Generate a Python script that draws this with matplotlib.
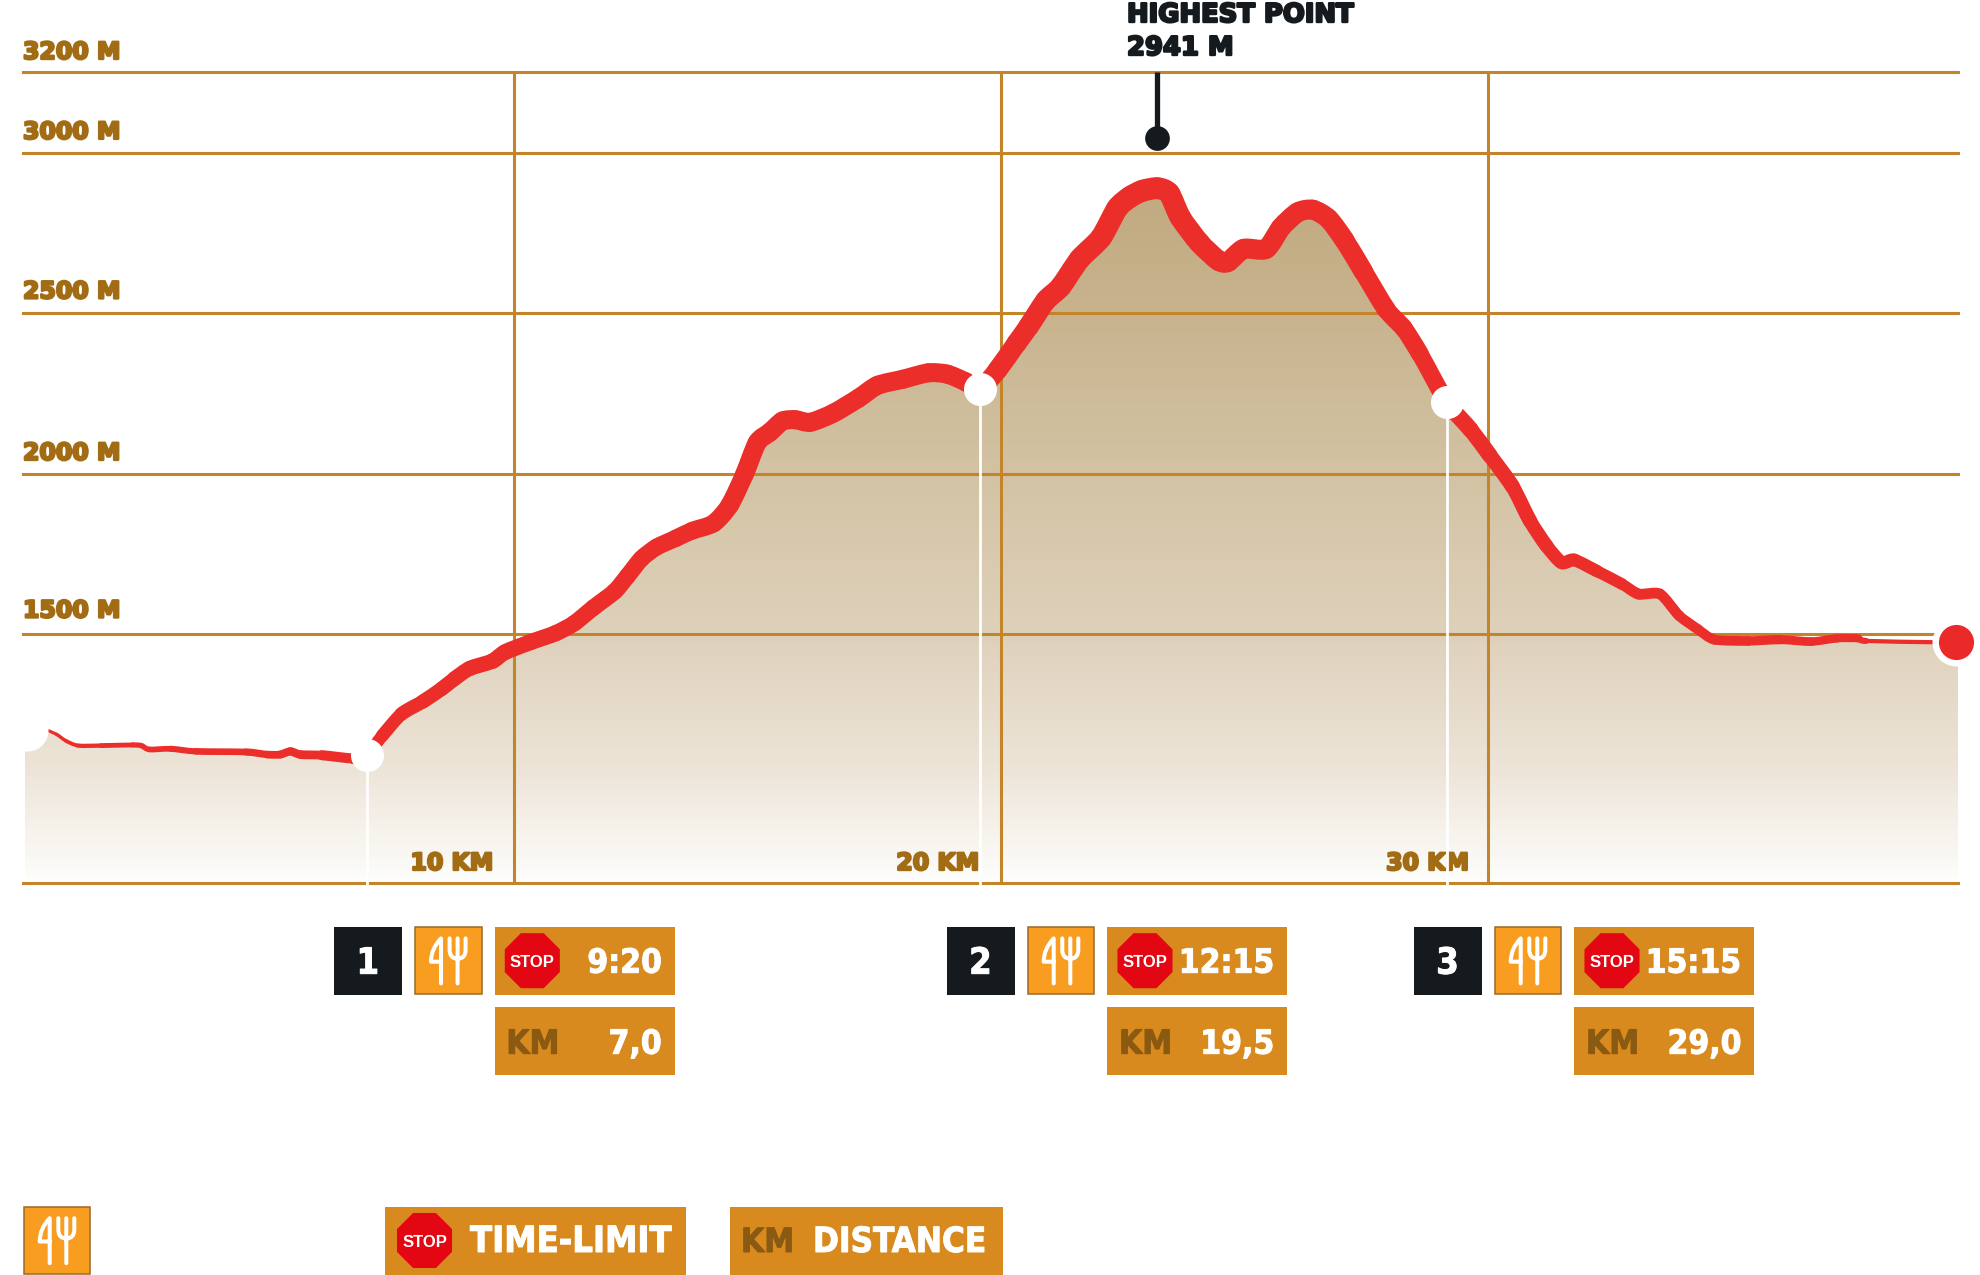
import numpy as np
import matplotlib
matplotlib.use("Agg")
import matplotlib.pyplot as plt
from matplotlib.collections import PathCollection
from matplotlib.colors import LinearSegmentedColormap
from matplotlib.patches import Rectangle, RegularPolygon, PathPatch
from matplotlib.path import Path
from matplotlib.transforms import Affine2D
import matplotlib.patheffects as pe

# ---------- data ----------
km = [0.42, 0.60, 0.79, 1.04, 1.51, 2.16, 2.34, 2.50, 2.94, 3.46, 4.49, 4.93, 5.19, 5.40, 5.61, 6.05, 6.70, 6.98,
      7.29, 7.68, 8.12, 8.51, 8.77, 9.08, 9.55, 9.81, 10.33, 10.85, 11.23, 11.62, 12.06, 12.32, 12.61, 12.92,
      13.31, 13.65, 14.09, 14.42, 14.73, 14.99, 15.25, 15.51, 15.77, 16.08, 16.55, 17.07, 17.46, 17.98, 18.50,
      18.89, 19.27, 19.56, 19.92, 20.31, 20.57, 20.91, 21.22, 21.61, 22.05, 22.38, 22.64, 22.90, 23.21, 23.45,
      23.68, 24.07, 24.46, 24.66, 24.98, 25.44, 25.75, 26.09, 26.40, 26.72, 27.05, 27.44, 27.91, 28.27, 28.60,
      29.15, 29.64, 30.03, 30.50, 30.86, 31.20, 31.51, 31.77, 32.24, 32.75, 33.09, 33.53, 33.92, 34.31, 34.65,
      35.35, 36.00, 36.64, 37.16, 37.60, 37.76, 39.11, 39.60]
elevation = [1201, 1189, 1169, 1154, 1154, 1156, 1154, 1142, 1144, 1136, 1134, 1126, 1126, 1136, 1126, 1124, 1114, 1126,
             1185, 1252, 1291, 1331, 1362, 1394, 1417, 1445, 1476, 1504, 1535, 1583, 1634, 1681, 1736, 1772,
             1799, 1823, 1846, 1902, 2000, 2098, 2130, 2165, 2169, 2161, 2189, 2236, 2276, 2295, 2315,
             2311, 2287, 2264, 2323, 2406, 2461, 2539, 2583, 2669, 2736, 2827, 2862, 2882, 2890, 2874,
             2799, 2720, 2665, 2661, 2701, 2701, 2768, 2815, 2823, 2795, 2728, 2630, 2512, 2453, 2374,
             2224, 2138, 2059, 1961, 1854, 1776, 1724, 1732, 1697, 1657, 1626, 1626, 1559, 1516, 1484,
             1480, 1484, 1478, 1488, 1488, 1480, 1476, 1476]
elev_ticks = [1500, 2000, 2500, 3000, 3200]
elev_tick_labels = ["1500 M", "2000 M", "2500 M", "3000 M", "3200 M"]
km_ticks = [10, 20, 30]
km_tick_labels = ["10 KM", "20 KM", "30 KM"]
aid_km = [6.98, 19.56, 29.15]
aid_elev = [1126, 2264, 2224]
aid_numbers = ["1", "2", "3"]
aid_times = ["9:20", "12:15", "15:15"]
aid_distances = ["7,0", "19,5", "29,0"]
start_point = (-0.01, 1203)
finish_point = (39.60, 1476)
high_point = (23.2, 3036)
high_labels = ["HIGHEST POINT", "2941 M"]

# ---------- style ----------
W, H = 1980, 1275
GRID = "#c4852a"; LABEL = "#a26c14"; RED = "#ec2e2b"; DARK = "#141a1d"
PANEL = "#d88a1e"; ORANGE = "#f99d21"; KMTXT = "#8a5a12"; STOP = "#e30613"
HEAVY = dict(family="DejaVu Sans", weight="bold",
             path_effects=[pe.withStroke(linewidth=1.7, foreground=LABEL)])
BADGE = dict(family="DejaVu Sans", weight="bold", stretch="condensed")
WHITE_FX = [pe.withStroke(linewidth=0.7, foreground="white")]
KM_FX = [pe.withStroke(linewidth=0.7, foreground=KMTXT)]
width_km = [0.42, 1, 2, 3, 4.5, 6, 7, 8, 10, 13, 15, 18, 19.5, 21, 23, 25, 27, 29, 31, 33, 34.6, 37.5, 37.8, 39.1]
width_px = [3, 4, 5, 6, 7, 9, 12, 14, 16, 17, 19, 19, 19, 21, 22, 20, 20, 17, 14, 11, 10, 8, 5, 3.5]

fig = plt.figure(figsize=(W / 100, H / 100), dpi=100, facecolor="white")
L, R, T, B = 23, 1958, 72, 883
ax = fig.add_axes([L / W, 1 - B / H, (R - L) / W, (B - T) / H])

# 3000-3200 band of the original scale is stretched relative to the rest
fwd = lambda y: np.interp(y, [0, 3000, 3200], [0, 3000, 3252])
inv = lambda y: np.interp(y, [0, 3000, 3252], [0, 3000, 3200])
ax.set_yscale("function", functions=(fwd, inv))
ax.set_xlim(-0.09, 39.65)
ax.set_ylim(726, 3200)
for s in ["top", "left", "right"]:
    ax.spines[s].set_visible(False)
ax.spines["bottom"].set_color(GRID)
ax.spines["bottom"].set_linewidth(2.2)
ax.set_facecolor("none")

# gradient fill under the profile
xs = np.r_[-0.05, km, 39.65]
ys = np.r_[1142, elevation, elevation[-1]]
poly = ax.fill_between(xs, ys, 726, facecolor="none", edgecolor="none", zorder=1)
cmap = LinearSegmentedColormap.from_list("terrain", [
    (0.0, "#fdfdfb"), (0.16, "#ede4d8"), (0.35, "#ded1bb"), (0.58, "#d3c3a4"), (0.80, "#c8b48f"), (1.0, "#c1a97f")])
yy = np.linspace(726, 2900, 300)
mesh = ax.pcolormesh([-0.09, 39.65], yy, np.linspace(0, 1, 299)[:, None], cmap=cmap, shading="flat", zorder=1,
                     rasterized=True)
mesh.set_clip_path(poly.get_paths()[0], poly.get_transform())

# axes, grid
ax.set_axisbelow(False)
ax.set_yticks(elev_ticks, elev_tick_labels)
ax.set_xticks(km_ticks, km_tick_labels)
ax.tick_params(length=0, pad=0)
ax.grid(True, color=GRID, lw=2.2)
for tick, dy in zip(ax.yaxis.get_major_ticks(), [17, 14, 15, 14, 13]):
    tick.gridline.set_clip_on(False)
    t = tick.label1
    t.set(ha="left", va="baseline", fontsize=17, color=LABEL, **HEAVY)
    t.set_transform(t.get_transform() + Affine2D().translate(0, dy))
for tick, dx in zip(ax.xaxis.get_major_ticks(), [-21, -22, -19]):
    t = tick.label1
    t.set(ha="right", va="baseline", fontsize=17, color=LABEL, **HEAVY)
    t.set_transform(t.get_transform() + Affine2D().translate(dx, 13))

# profile with tapered width, each span a smooth Bezier through the read points
pts = np.column_stack([km, elevation]).astype(float)
prev = np.vstack([pts[0], pts[:-1]])
nxt = np.vstack([pts[1:], pts[-1]])
tang = (nxt - prev) / 8
paths = [Path([pts[i], pts[i] + tang[i], pts[i + 1] - tang[i + 1], pts[i + 1]],
              [Path.MOVETO, Path.CURVE4, Path.CURVE4, Path.CURVE4]) for i in range(len(pts) - 1)]
mids = (pts[:-1, 0] + pts[1:, 0]) / 2
lws = np.interp(mids, width_km, width_px) * 0.72
line = PathCollection(paths, facecolors="none", edgecolors=RED, linewidths=lws, capstyle="round",
                      joinstyle="round", zorder=3, transform=ax.transData)
ax.add_collection(line, autolim=False)

# aid-station markers and drops
ax.vlines(aid_km, 700, aid_elev, colors="white", lw=2, zorder=4, clip_on=False)
ax.scatter(aid_km, aid_elev, s=566, c="white", linewidths=0, zorder=5)
ax.scatter(*start_point, s=918, c="white", linewidths=0, zorder=5, clip_on=False)
ax.scatter(*finish_point, s=1190, c="white", linewidths=0, zorder=5, clip_on=False)
ax.scatter(*finish_point, s=640, c="#e92a28", linewidths=0, zorder=6, clip_on=False)

# highest point
ax.vlines(high_point[0], high_point[1], 3200, colors=DARK, lw=3.8, zorder=6, clip_on=False)
ax.scatter(*high_point, s=317, c=DARK, linewidths=0, zorder=6, clip_on=False)

# ---------- overlay in pixel coordinates ----------
ov = fig.add_axes([0, 0, 1, 1], facecolor="none")
ov.set_xlim(0, W)
ov.set_ylim(H, 0)
ov.axis("off")

dark_heavy = dict(HEAVY, path_effects=[pe.withStroke(linewidth=1.7, foreground=DARK)])
ov.text(1127, 22, high_labels[0], fontsize=18.6, color=DARK, va="baseline", **dark_heavy)
ov.text(1127, 55, high_labels[1], fontsize=18.6, color=DARK, va="baseline", **dark_heavy)


def box(x, y, w, h, fc, ec="none", lw=0):
    ov.add_patch(Rectangle((x, y), w, h, facecolor=fc, edgecolor=ec, linewidth=lw))


def fork_icon(x, y):
    box(x + 0.7, y + 0.7, 66.6, 66.6, ORANGE, "#9a6a2a", 1.1)
    M, LI, C = Path.MOVETO, Path.LINETO, Path.CURVE3
    v = [(26.7, 56.7), (26.7, 11.7), (16.7, 22), (16.7, 35), (26.7, 35),
         (43.3, 56.7), (43.3, 11.7),
         (35.3, 11.7), (35.3, 23), (35.3, 32), (43.3, 32), (51.3, 32), (51.3, 23), (51.3, 11.7)]
    c = [M, LI, C, C, LI, M, LI, M, LI, C, C, C, C, LI]
    p = Path(np.array(v) + (x, y), c)
    ov.add_patch(PathPatch(p, facecolor="none", edgecolor="white", lw=2.9, capstyle="round", joinstyle="round"))


def stop_sign(cx, cy):
    ov.add_patch(RegularPolygon((cx, cy), 8, radius=29.8, orientation=np.pi / 8, facecolor=STOP, edgecolor="none"))
    ov.text(cx, cy + 0.5, "STOP", color="white", fontsize=12, ha="center", va="center_baseline",
            family="Liberation Sans", weight="bold")


for x0, num, tm, dist in zip([334.3, 947, 1414], aid_numbers, aid_times, aid_distances):
    y0 = 926.7
    box(x0, y0, 68, 68, DARK)
    ov.text(x0 + 33.5, y0 + 47, num, color="white", fontsize=26, ha="center", va="baseline",
            path_effects=WHITE_FX, **BADGE)
    fork_icon(x0 + 80, y0)
    box(x0 + 160.4, y0, 180, 68, PANEL)
    stop_sign(x0 + 198, y0 + 34)
    ov.text(x0 + 327.4, y0 + 46, tm, color="white", fontsize=24, ha="right", va="baseline",
            path_effects=WHITE_FX, **BADGE)
    box(x0 + 160.4, y0 + 80.6, 180, 68, PANEL)
    ov.text(x0 + 172, y0 + 127, "KM", color=KMTXT, fontsize=24, ha="left", va="baseline",
            path_effects=KM_FX, **BADGE)
    ov.text(x0 + 327.4, y0 + 127, dist, color="white", fontsize=24, ha="right", va="baseline",
            path_effects=WHITE_FX, **BADGE)

# legend row
fork_icon(23, 1206.5)
box(385, 1206.5, 301, 68, PANEL)
stop_sign(424.5, 1240.5)
ov.text(470, 1252, "TIME-LIMIT", color="white", fontsize=26, va="baseline", path_effects=WHITE_FX, **BADGE)
box(730, 1206.5, 273, 68, PANEL)
ov.text(741, 1252, "KM", color=KMTXT, fontsize=24, va="baseline", path_effects=KM_FX, **BADGE)
ov.text(813, 1252, "DISTANCE", color="white", fontsize=25, va="baseline", path_effects=WHITE_FX, **BADGE)

fig.savefig("out.png", dpi=100, facecolor="white")
